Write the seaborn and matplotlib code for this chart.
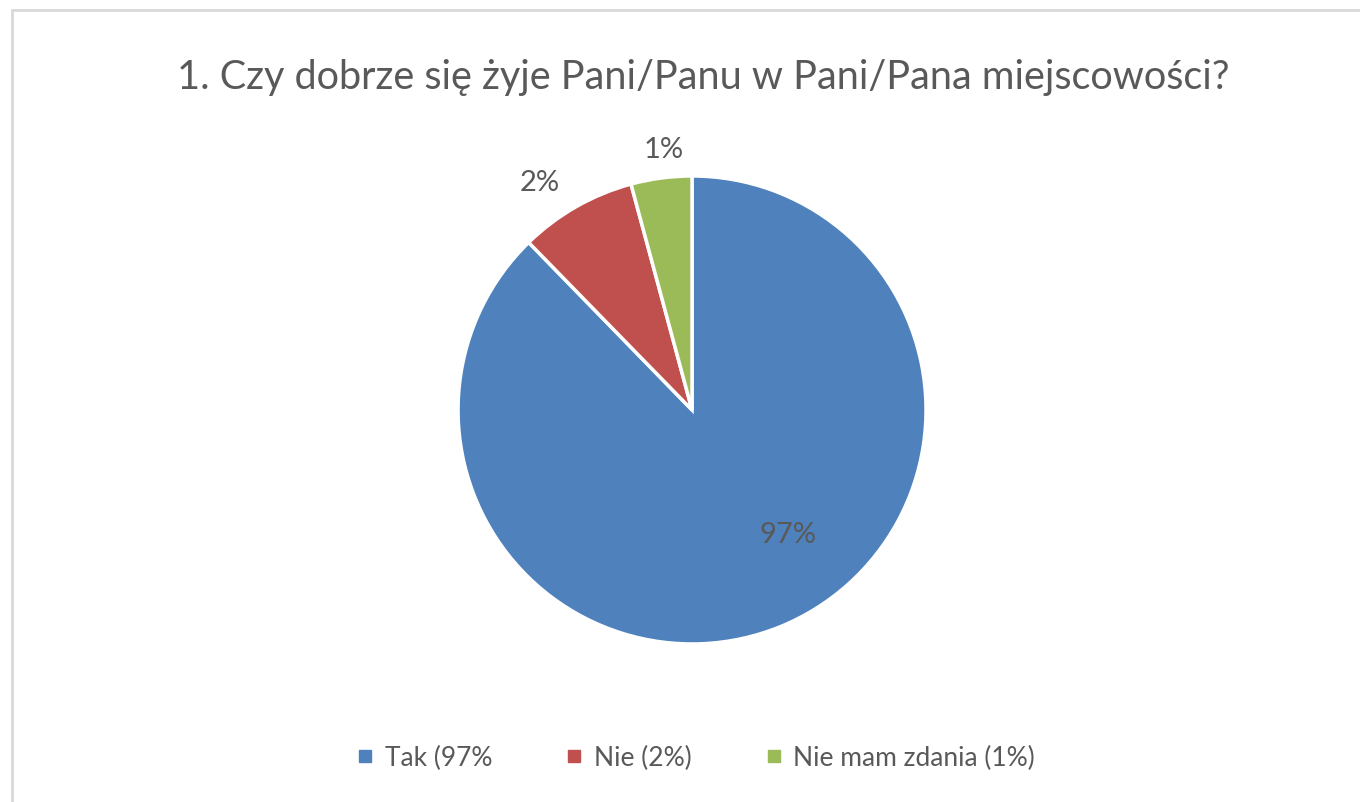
import numpy as np
import matplotlib.pyplot as plt
import seaborn as sns
from matplotlib.lines import Line2D

sns.set_style("white")
plt.rcParams["font.family"] = ["Lato", "DejaVu Sans"]

# data
categories = ["Tak (97%", "Nie (2%)", "Nie mam zdania (1%)"]
slice_values = [87.7, 8.1, 4.2]
slice_labels = ["97%", "2%", "1%"]
colors = ["#4F81BD", "#C0504D", "#9BBB59"]

text_grey = "#595959"

fig = plt.figure(figsize=(13.6, 8.03), dpi=100)

# light frame at top and left like the copied chart
fig.add_artist(Line2D([0.009, 0.009], [0, 0.986], color="#d9d9d9", lw=2, transform=fig.transFigure))
fig.add_artist(Line2D([0.009, 1], [0.986, 0.986], color="#d9d9d9", lw=2, transform=fig.transFigure))

ax = fig.add_axes([0.3368, 0.1968, 0.3441, 0.5828])
wedges, _ = ax.pie(slice_values, colors=colors, startangle=90, counterclock=False,
                   radius=1, wedgeprops=dict(edgecolor="white", linewidth=2.5))
ax.set_xlim(-1, 1)
ax.set_ylim(-1, 1)
ax.set_aspect("equal")
ax.axis("off")

# label placement: distance from centre and small angle shift per slice
label_dist = [0.67, 1.17, 1.12]
angle_shift = [15.5, 4, -1.4]
for w, lab, d, s in zip(wedges, slice_labels, label_dist, angle_shift):
    mid = np.deg2rad((w.theta1 + w.theta2) / 2 + s)
    ax.text(d * np.cos(mid), d * np.sin(mid), lab, ha="center", va="center",
            fontsize=21, color=text_grey, clip_on=False)

fig.text(0.517, 0.903, "1. Czy dobrze się żyje Pani/Panu w Pani/Pana miejscowości?",
         ha="center", va="center", fontsize=28.5, color=text_grey)

handles = [Line2D([], [], marker="s", linestyle="", markersize=9, color=c) for c in colors]
fig.legend(handles, categories, loc="center", bbox_to_anchor=(0.511, 0.055), ncol=3,
           frameon=False, fontsize=19, labelcolor=text_grey, handletextpad=0.35,
           columnspacing=2.7, handlelength=0.8)

fig.savefig("out.png", dpi=100)
